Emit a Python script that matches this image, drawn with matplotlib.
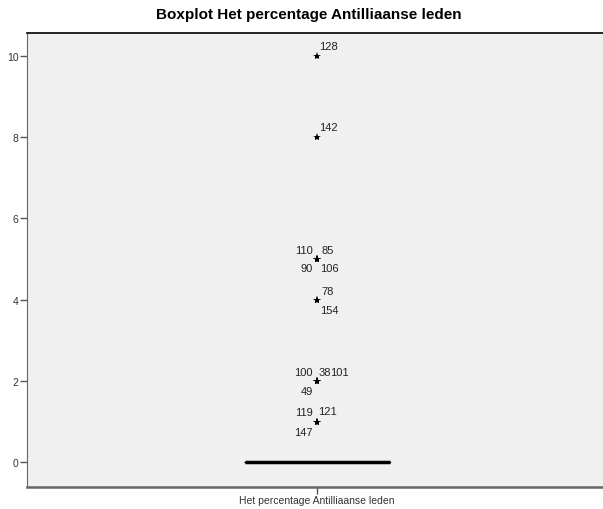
import matplotlib.pyplot as plt

plt.rcParams['font.family'] = ['Liberation Sans', 'DejaVu Sans']

# Boxplot stats: all quartiles and whiskers sit at 0
variable_name = "Het percentage Antilliaanse leden"
box_median = 0
box_q1 = 0
box_q3 = 0
whisker_low = 0
whisker_high = 0

# extreme values (stars) and their case numbers
extreme_values = [10, 8, 5, 5, 5, 5, 4, 4, 2, 2, 2, 2, 1, 1, 1]
case_labels = ["128", "142", "110", "85", "90", "106", "78", "154",
               "100", "38", "101", "49", "119", "121", "147"]

y_ticks = [0, 2, 4, 6, 8, 10]

# label placement around each star (pixels): dx, dy, ha
label_offsets = [(2, 10, 'left'), (2, 10, 'left'),
                 (-4, 9, 'right'), (4, 9, 'left'), (-4, -9, 'right'), (3, -9, 'left'),
                 (4, 9, 'left'), (3, -10, 'left'),
                 (-4, 9, 'right'), (2, 9, 'left'), (13, 9, 'left'), (-4, -10, 'right'),
                 (-4, 10, 'right'), (1, 11, 'left'), (-4, -10, 'right')]

fig = plt.figure(figsize=(6.03, 5.10), dpi=100)
ax = fig.add_axes([27 / 603, 22 / 510, 576 / 603, 454 / 510])
ax.set_facecolor('#f0f0f0')

stats = [dict(med=box_median, q1=box_q1, q3=box_q3, whislo=whisker_low,
              whishi=whisker_high, fliers=[], label=variable_name)]
ax.bxp(stats, positions=[1], widths=145 / 576, showfliers=False,
       boxprops=dict(color='black', linewidth=1),
       medianprops=dict(color='black', linewidth=2.5, solid_capstyle='butt'),
       whiskerprops=dict(color='black'), capprops=dict(color='black', linewidth=0))

ax.plot([1] * len(extreme_values), extreme_values, linestyle='none', marker='*',
        color='black', markersize=6, markeredgewidth=0)

for val, lab, (dx, dy, ha) in zip(extreme_values, case_labels, label_offsets):
    ax.annotate(lab, (1, val), xytext=(dx, dy), textcoords='offset pixels',
                ha=ha, va='center', fontsize=8, color='#222222')

ax.set_xlim(1 - 0.5035, 1 + 0.4965)
ax.set_ylim(-0.61, 10.56)
ax.set_yticks(y_ticks)
ax.set_yticklabels([str(t) for t in y_ticks])
ax.set_xticks([1])
ax.set_xticklabels([variable_name])

ax.tick_params(axis='both', labelsize=7.5, colors='#333333', length=5, width=1,
               direction='out', pad=1)
ax.tick_params(axis='x', color='#555555')
ax.tick_params(axis='y', color='#555555')

ax.spines['top'].set_color('black')
ax.spines['top'].set_linewidth(1.2)
ax.spines['right'].set_visible(False)
ax.spines['left'].set_color('#666666')
ax.spines['bottom'].set_color('#666666')
ax.spines['bottom'].set_linewidth(1.8)

fig.text(309 / 603, 1 - 15 / 510, "Boxplot Het percentage Antilliaanse leden",
         ha='center', va='center', fontsize=11, fontweight='bold')

fig.savefig('out.png', dpi=100, facecolor='white')
